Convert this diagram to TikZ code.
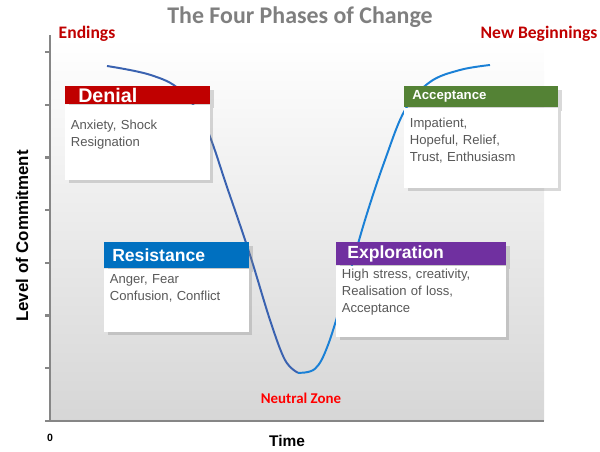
\documentclass[tikz,border=0pt]{standalone}
\usepackage{fontspec}
\setmainfont{Liberation Sans}
\newfontfamily\calibri{Carlito}
\usetikzlibrary{positioning, shadows}
\definecolor{denialred}{HTML}{C00000}
\definecolor{zonered}{HTML}{FF0000}
\definecolor{resistblue}{HTML}{0070C0}
\definecolor{explpurple}{HTML}{7030A0}
\definecolor{accgreen}{HTML}{548235}
\definecolor{bodygray}{HTML}{595959}
\definecolor{axisgray}{HTML}{868686}
\definecolor{titlegray}{HTML}{7F7F7F}
\definecolor{curvedark}{HTML}{3A62B0}
\definecolor{curvelight}{HTML}{1A80D6}
\tikzstyle{axis} = [line width=1.6pt, draw=axisgray]
\tikzstyle{phasehead} = [rectangle, anchor=north west, inner ysep=0pt, align=left, text=white, drop shadow={opacity=0.3, shadow xshift=2.5pt, shadow yshift=-2.5pt}]
\tikzstyle{phasebody} = [rectangle, fill=white, inner xsep=4pt, text height=7pt, align=left, text=bodygray, font=\fontsize{9.3}{12}\selectfont, drop shadow={opacity=0.3, shadow xshift=2.5pt, shadow yshift=-2.5pt}]
\tikzstyle{redlabel} = [font=\calibri\bfseries\fontsize{12.5}{15}\selectfont, text=denialred]

\begin{document}
\begin{tikzpicture}
        \useasboundingbox (0,0) rectangle (15,11.3);
        % plot area
        \shade[top color=white, bottom color=black!16] (1.25,0.775) rectangle (13.6,10.35);
        \coordinate (origin) at (1.25,0.775);
        \coordinate (ytop) at (1.25,10.425);
        \coordinate (xend) at (13.6,0.775);
        \draw [axis] (origin) -- (ytop);
        \draw [axis] (origin -| 1.125,0) -- (xend);
        \foreach \k in {1,...,7}
            \draw [axis] (1.125,0.775+\k*1.3175) -- (1.25,0.775+\k*1.3175);

        % the curve
        \draw [curvedark, line width=1.4pt] plot[smooth, tension=0.6] coordinates {(2.675,9.65) (3.75,9.43) (4.5,9.05) (5.125,8.175) (5.7,6.55) (6.25,4.925) (6.75,3.3) (7.125,2.3) (7.45,1.98)};
        \draw [curvelight, line width=1.4pt] plot[smooth, tension=0.6] coordinates {(7.45,1.98) (7.875,2.08) (8.2,2.675) (8.625,4.05) (9.125,5.8) (9.625,7.3) (10.125,8.55) (10.75,9.25) (11.5,9.55) (12.25,9.675)};

        % denial
        \node (denialhd) [phasehead, fill=denialred, minimum height=0.45cm, inner xsep=0.325cm, text width=2.975cm, font=\bfseries\fontsize{14}{14}\selectfont] at (1.625,9.15) {Denial};
        \node (denialbd) [phasebody, below=0pt of denialhd.south west, anchor=north west, text width=94.8pt, inner ysep=10.7pt, text depth=24.75pt] {Anxiety, Shock\\Resignation};

        % resistance
        \node (resisthd) [phasehead, fill=resistblue, minimum height=0.65cm, inner xsep=0.2cm, text width=3.225cm, font=\bfseries\fontsize{12.5}{13}\selectfont] at (2.6,5.25) {Resistance};
        \node (resistbd) [phasebody, below=0pt of resisthd.south west, anchor=north west, text width=94.8pt, inner ysep=3.6pt, text depth=30.45pt] {Anger, Fear\\Confusion, Conflict};

        % exploration
        \node (explhd) [phasehead, fill=explpurple, minimum height=0.575cm, inner xsep=0.275cm, text width=3.7cm, font=\bfseries\fontsize{12.5}{13}\selectfont] at (8.4,5.25) {Exploration};
        \node (explbd) [phasebody, below=0pt of explhd.south west, anchor=north west, text width=112.5pt, inner ysep=2.2pt, text depth=38.9pt] {High stress, creativity,\\Realisation of loss,\\Acceptance};

        % acceptance
        \node (acchd) [phasehead, fill=accgreen, minimum height=0.525cm, inner xsep=0.2cm, text width=3.45cm, font=\bfseries\fontsize{9.4}{10}\selectfont] at (10.1,9.15) {Acceptance};
        \node (accbd) [phasebody, below=0pt of acchd.south west, anchor=north west, text width=101.1pt, inner ysep=7.2pt, text depth=35.3pt] {Impatient,\\Hopeful, Relief,\\Trust, Enthusiasm};

        % labels
        \node (title) [font=\calibri\bfseries\fontsize{17}{20}\selectfont, text=titlegray] at (7.5,10.875) {The Four Phases of Change};
        \node (endings) [redlabel] at (2.175,10.45) {Endings};
        \node (newbeg) [redlabel] at (13.475,10.45) {New Beginnings};
        \node (zone) [font=\calibri\bfseries\fontsize{10.6}{12}\selectfont, text=zonered] at (7.525,1.35) {Neutral Zone};
        \node (zero) [font=\bfseries\fontsize{7.5}{9}\selectfont] at (1.25,0.35) {0};
        \node (time) [font=\bfseries\fontsize{11}{13}\selectfont] at (7.175,0.275) {Time};
        \node (level) [font=\bfseries\fontsize{12}{14}\selectfont, rotate=90] at (0.55,5.4) {Level of Commitment};
\end{tikzpicture}
\end{document}
